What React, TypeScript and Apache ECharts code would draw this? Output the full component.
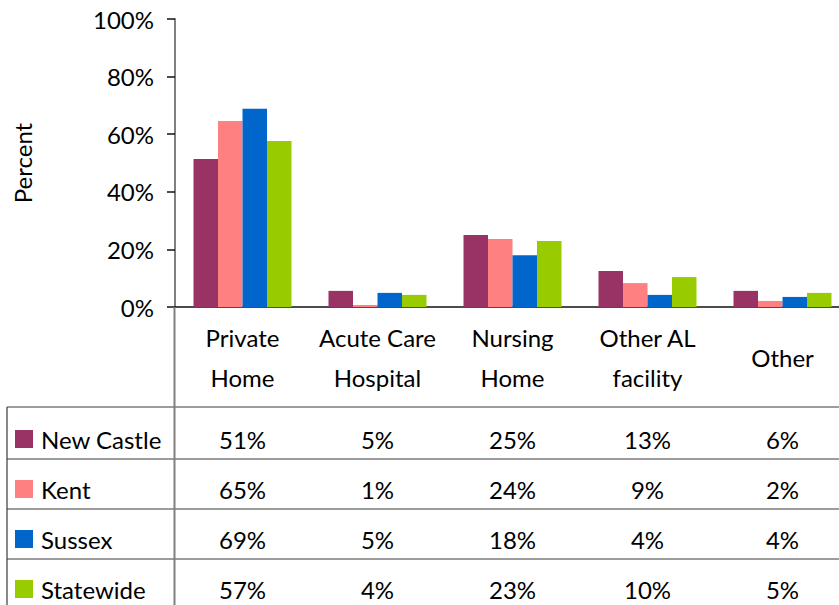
import React, { useEffect, useRef } from "react";
import * as echarts from "echarts";

const categories = ["Private\nHome", "Acute Care\nHospital", "Nursing\nHome", "Other AL\nfacility", "Other"];
const seriesNames = ["New Castle", "Kent", "Sussex", "Statewide"];
const seriesColors = ["#993366", "#FF8080", "#0066CC", "#99CC00"];

const newCastle = [51.4, 5.6, 25.0, 12.5, 5.6];
const kent = [64.6, 0.7, 23.6, 8.3, 2.1];
const sussex = [68.8, 4.9, 18.0, 4.2, 3.5];
const statewide = [57.6, 4.2, 22.9, 10.4, 4.9];

const newCastleLabels = ["51%", "5%", "25%", "13%", "6%"];
const kentLabels = ["65%", "1%", "24%", "9%", "2%"];
const sussexLabels = ["69%", "5%", "18%", "4%", "4%"];
const statewideLabels = ["57%", "4%", "23%", "10%", "5%"];

const FONT = "Lato, 'Open Sans', sans-serif";

export default function App() {
  const ref = useRef<HTMLDivElement>(null);

  useEffect(() => {
    if (!ref.current) return;
    const chart = echarts.init(ref.current, undefined, { renderer: "svg" });
    const values = [newCastle, kent, sussex, statewide];
    const labels = [newCastleLabels, kentLabels, sussexLabels, statewideLabels];

    const GRID_LEFT = 175;
    const GRID_TOP = 19;
    const GRID_H = 288;
    const AXIS_Y = GRID_TOP + GRID_H;
    const BOTTOM = 605;
    const lineColor = "#3a3a3a";

    chart.setOption({
      animation: false,
      textStyle: { fontFamily: FONT },
      grid: {
        left: GRID_LEFT,
        top: GRID_TOP,
        width: 675,
        height: GRID_H,
        containLabel: false,
        outerBoundsMode: "none",
      },
      xAxis: {
        type: "category",
        data: categories,
        axisLine: { show: true, lineStyle: { color: "#111", width: 1.5 } },
        axisTick: {
          show: true,
          length: BOTTOM - AXIS_Y,
          lineStyle: { color: lineColor, width: 1.2, shadowColor: "#aaa", shadowOffsetX: 1 },
        },
        axisLabel: {
          fontSize: 24,
          color: "#000",
          lineHeight: 40,
          verticalAlign: "middle",
          margin: 50,
          fontFamily: FONT,
          interval: 0,
        },
      },
      yAxis: {
        type: "value",
        min: 0,
        max: 100,
        interval: 20,
        name: "Percent",
        nameLocation: "middle",
        nameGap: 141,
        nameTextStyle: { fontSize: 24, color: "#000", fontFamily: FONT },
        axisLine: { show: true, lineStyle: { color: "#808080", width: 2 } },
        axisTick: { show: true, length: 8, lineStyle: { color: "#111", width: 1.5 } },
        axisLabel: {
          formatter: "{value}%",
          fontSize: 24,
          color: "#000",
          margin: 21,
          fontFamily: FONT,
        },
        splitLine: {
          show: true,
          lineStyle: { color: "#222", width: 1.5, shadowColor: "#bbb", shadowOffsetY: 1.5 },
        },
      },
      series: values.map((v, i) => ({
        name: seriesNames[i],
        type: "bar",
        data: v,
        barWidth: 24.5,
        barGap: "0%",
        itemStyle: { color: seriesColors[i] },
      })),
    });

    const ROW_LINES = [407, 459, 509, 559];
    const TEXT_Y0 = 439;
    const ROW_H = 50;
    const graphics: any[] = [];
    ROW_LINES.forEach((y) => {
      graphics.push({
        type: "line",
        shape: { x1: 7, y1: y, x2: 839, y2: y },
        style: { stroke: lineColor, lineWidth: 1.2 },
        z: 10,
      });
    });
    graphics.push({
      type: "line",
      shape: { x1: 7, y1: ROW_LINES[0], x2: 7, y2: BOTTOM },
      style: { stroke: lineColor, lineWidth: 1.2 },
      z: 10,
    });
    graphics.push({
      type: "line",
      shape: { x1: GRID_LEFT - 0.5, y1: AXIS_Y, x2: GRID_LEFT - 0.5, y2: BOTTOM },
      style: { stroke: "#808080", lineWidth: 2 },
      z: 10,
    });
    seriesNames.forEach((name, r) => {
      const cy = TEXT_Y0 + r * ROW_H;
      graphics.push({
        type: "rect",
        shape: { x: 15, y: cy - 9, width: 18, height: 18 },
        style: { fill: seriesColors[r] },
        z: 10,
      });
      graphics.push({
        type: "text",
        x: 41,
        y: cy,
        style: {
          text: name,
          fill: "#000",
          font: `24px ${FONT}`,
          textAlign: "left",
          textVerticalAlign: "middle",
        },
        z: 10,
      });
      labels[r].forEach((lab, c) => {
        const px = chart.convertToPixel({ xAxisIndex: 0 }, c) as number;
        graphics.push({
          type: "text",
          x: px,
          y: cy,
          style: {
            text: lab,
            fill: "#000",
            font: `24px ${FONT}`,
            textAlign: "center",
            textVerticalAlign: "middle",
          },
          z: 10,
        });
      });
    });

    chart.setOption({ graphic: { elements: graphics } });

    return () => chart.dispose();
  }, []);

  return (
    <div
      ref={ref}
      style={{ position: "absolute", left: 0, top: 0, width: 839, height: 605, background: "#fff" }}
    />
  );
}
